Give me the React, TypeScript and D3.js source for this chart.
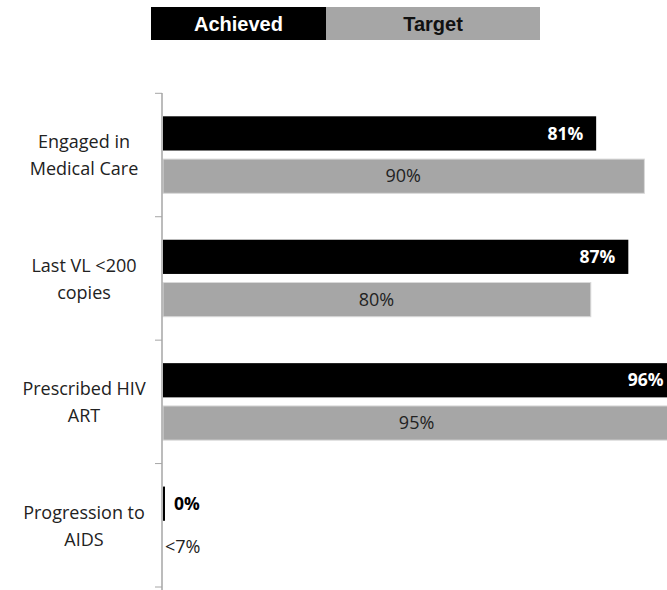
import React from "react";
import * as d3 from "d3";

const categories = [
  ["Engaged in", "Medical Care"],
  ["Last VL <200", "copies"],
  ["Prescribed HIV", "ART"],
  ["Progression to", "AIDS"],
];
const achievedValues = [81, 87, 96, 0];
const targetValues = [90, 80, 95, 0];
const achievedLabels = ["81%", "87%", "96%", "0%"];
const targetLabels = ["90%", "80%", "95%", "<7%"];
const seriesNames = ["Achieved", "Target"];
const seriesColors = ["#000000", "#A6A6A6"];

const W = 667;
const H = 590;

export default function App() {
  const axisX = 162;
  const y = d3
    .scaleBand<number>()
    .domain(d3.range(categories.length))
    .range([93.3, 587])
    .padding(0);
  const sub = d3
    .scaleBand<number>()
    .domain([0, 1])
    .range([23, 100])
    .paddingInner(0.2);
  const x = d3.scaleLinear().domain([0, 100]).range([axisX, axisX + 536]);
  const labelFont = "'Open Sans', 'Noto Sans', sans-serif";
  const legX = d3.scaleOrdinal<string, number>().domain(seriesNames).range([151, 326]);
  const legW = [175, 214];
  const fs = 18;

  return (
    <svg
      width={W}
      height={H}
      style={{ position: "absolute", left: 0, top: 0, display: "block", background: "#fff" }}
    >
      <defs>
        <clipPath id="plot">
          <rect x={0} y={0} width={W} height={H} />
        </clipPath>
      </defs>
      {/* legend */}
      {seriesNames.map((s, i) => (
        <g key={s}>
          <rect x={legX(s)} y={7} width={legW[i]} height={33} fill={seriesColors[i]} />
          <text
            x={legX(s) + legW[i] / 2}
            y={24}
            dy="0.35em"
            textAnchor="middle"
            fontFamily="'Liberation Sans', Arial, sans-serif"
            fontWeight="bold"
            fontSize={20}
            fill={i === 0 ? "#fff" : "#111"}
          >
            {s}
          </text>
        </g>
      ))}
      {/* bars */}
      <g clipPath="url(#plot)">
        {categories.map((c, i) => {
          const by = y(i)!;
          const a = achievedValues[i];
          const t = targetValues[i];
          const ay = by + sub(0)!;
          const ty = by + sub(1)!;
          const bw = sub.bandwidth();
          const ax = x(a);
          const tx = x(t);
          const labelEnd = Math.min(ax - 13, W - 3);
          return (
            <g key={i}>
              <rect
                x={axisX + 1}
                y={ay}
                width={Math.max(ax - axisX - 1, 2)}
                height={bw}
                fill={seriesColors[0]}
              />
              {t > 0 && (
                <rect
                  x={axisX + 1}
                  y={ty}
                  width={tx - axisX - 1}
                  height={bw}
                  fill={seriesColors[1]}
                  stroke="#d9d9d9"
                  strokeWidth={1}
                />
              )}
              {a > 0 ? (
                <text
                  x={labelEnd}
                  y={ay + bw / 2}
                  dy="0.35em"
                  textAnchor="end"
                  fontFamily={labelFont}
                  fontWeight="bold"
                  fontSize={17.5}
                  fill="#fff"
                >
                  {achievedLabels[i]}
                </text>
              ) : (
                <text
                  x={axisX + 12}
                  y={ay + bw / 2}
                  dy="0.35em"
                  textAnchor="start"
                  fontFamily={labelFont}
                  fontWeight="bold"
                  fontSize={17.5}
                  fill="#000"
                >
                  {achievedLabels[i]}
                </text>
              )}
              {t > 0 ? (
                <text
                  x={(axisX + tx) / 2}
                  y={ty + bw / 2}
                  dy="0.35em"
                  textAnchor="middle"
                  fontFamily={labelFont}
                  fontSize={fs}
                  fill="#222"
                >
                  {targetLabels[i]}
                </text>
              ) : (
                <text
                  x={axisX + 3}
                  y={ty + bw / 2}
                  dy="0.35em"
                  textAnchor="start"
                  fontFamily={labelFont}
                  fontSize={fs}
                  fill="#222"
                >
                  {targetLabels[i]}
                </text>
              )}
            </g>
          );
        })}
      </g>
      {/* axis */}
      <line x1={axisX} x2={axisX} y1={93} y2={H} stroke="#A6A6A6" strokeWidth={1.5} />
      {d3.range(categories.length + 1).map((k) => {
        const ty = k < categories.length ? y(k)! : y(categories.length - 1)! + y.bandwidth();
        return (
          <line key={k} x1={155} x2={axisX} y1={ty} y2={ty} stroke="#A6A6A6" strokeWidth={1} />
        );
      })}
      {categories.map((c, i) => {
        const cy = y(i)! + y.bandwidth() / 2;
        return (
          <text
            key={i}
            x={77}
            textAnchor="middle"
            fontFamily={labelFont}
            fontSize={fs}
            fill="#222"
          >
            <tspan x={84} y={cy - 13} dy="0.35em">
              {c[0]}
            </tspan>
            <tspan x={84} y={cy + 14} dy="0.35em">
              {c[1]}
            </tspan>
          </text>
        );
      })}
    </svg>
  );
}
